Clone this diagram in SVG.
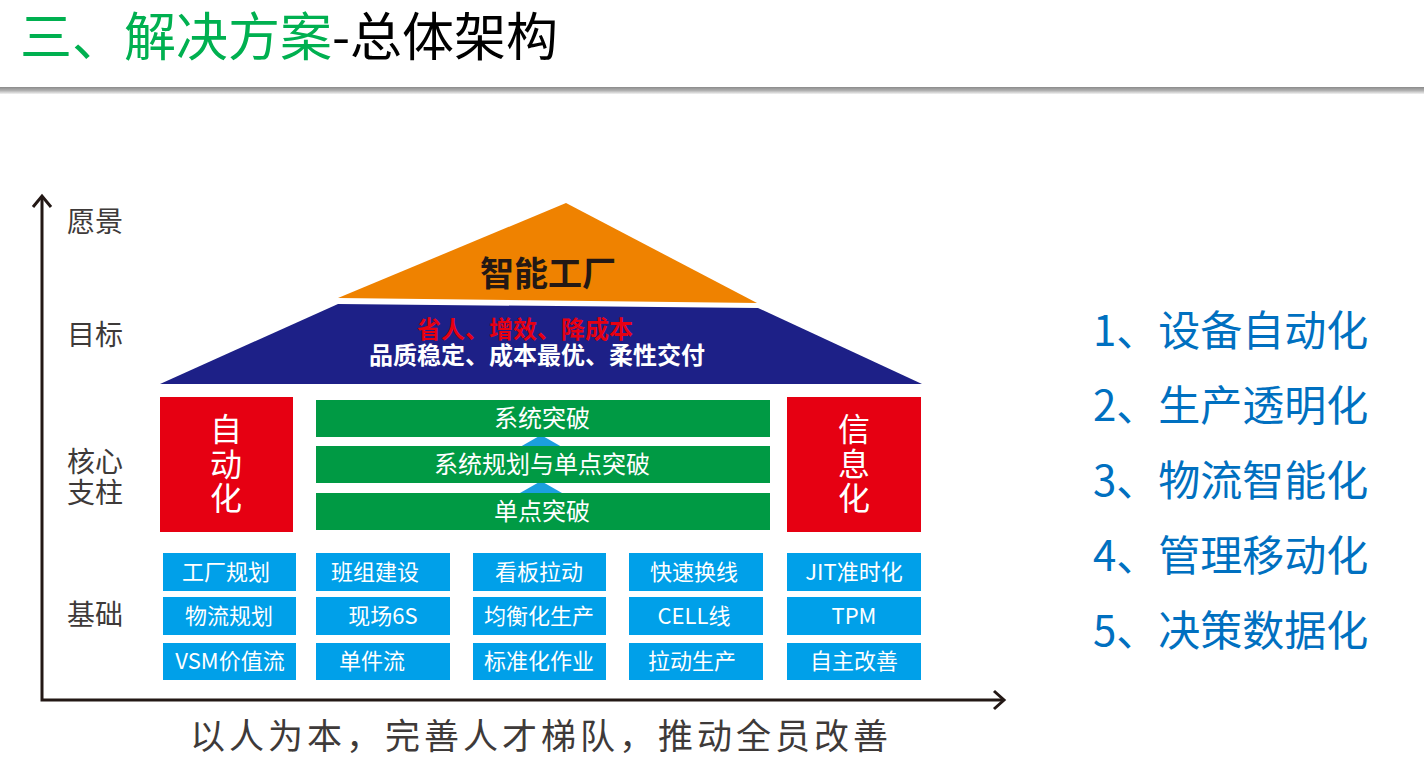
<svg xmlns="http://www.w3.org/2000/svg" width="1424" height="773" viewBox="0 0 1424 773">
<style>
text{font-family:"Noto Sans CJK SC","Noto Sans",sans-serif;}
.ax{font-size:28px;fill:#3e3a39;}
.pil{font-size:32px;fill:#fff;text-anchor:middle;}
.bar{font-size:24px;fill:#fff;text-anchor:middle;}
.base{font-size:22px;fill:#fff;text-anchor:middle;}
.lst{font-size:42px;fill:#0070c0;}
.gb{fill:#009a44;}
.bb{fill:#00a0e9;}
.rp{fill:#e60012;}
.axis{stroke:#231815;stroke-width:3;fill:none;}
</style>
<defs>
<linearGradient id="hl" x1="0" y1="0" x2="0" y2="1">
<stop offset="0" stop-color="#8a8a8a"/>
<stop offset="0.5" stop-color="#b0b0b0"/>
<stop offset="1" stop-color="#f2f2f2"/>
</linearGradient>
</defs>
<rect width="1424" height="773" fill="#fff"/>
<g id="title">
<text x="20" y="56" font-size="52"><tspan fill="#00b050">三、解决方案</tspan><tspan fill="#000">-总体架构</tspan></text>
<rect x="0" y="87" width="1424" height="7" fill="url(#hl)"/>
</g>
<g id="connectors">
<polyline class="axis" points="42,196 42,700 1004,700"/>
<polyline class="axis" points="33,207 42,196 51,207"/>
<polyline class="axis" points="994,691 1004,700 994,709"/>
<polygon points="541,435 520,447 562,447" fill="#1b9fdf"/>
<polygon points="541,481 520,493 562,493" fill="#1b9fdf"/>
</g>
<g id="axis-labels">
<text class="ax" x="67" y="232">愿景</text>
<text class="ax" x="67" y="345">目标</text>
<text class="ax" x="67" y="472">核心<tspan x="67" dy="31">支柱</tspan></text>
<text class="ax" x="67" y="625">基础</text>
</g>
<g id="vision">
<polygon points="566,203 338,298 757,303" fill="#ef8200"/>
<text x="548" y="286" font-size="34" font-weight="bold" fill="#231815" text-anchor="middle">智能工厂</text>
</g>
<g id="goal">
<polygon points="338,304 758,308 922,384 160,384" fill="#1d2087"/>
<text x="525" y="338" font-size="24" font-weight="bold" fill="#e60012" text-anchor="middle">省人、增效、降成本</text>
<text x="537" y="364" font-size="24" font-weight="bold" fill="#fff" text-anchor="middle">品质稳定、成本最优、柔性交付</text>
</g>
<g id="pillar-auto">
<rect class="rp" x="160" y="397" width="133" height="135"/>
<text class="pil" x="226" y="441">自<tspan x="226" dy="35">动</tspan><tspan x="226" dy="34">化</tspan></text>
</g>
<g id="pillar-info">
<rect class="rp" x="787" y="397" width="134" height="135"/>
<text class="pil" x="854" y="441">信<tspan x="854" dy="35">息</tspan><tspan x="854" dy="34">化</tspan></text>
</g>
<g id="bar-system">
<rect class="gb" x="316" y="400" width="454" height="37"/>
<text class="bar" x="542" y="427">系统突破</text>
</g>
<g id="bar-plan">
<rect class="gb" x="316" y="446" width="454" height="37"/>
<text class="bar" x="542" y="473">系统规划与单点突破</text>
</g>
<g id="bar-single">
<rect class="gb" x="316" y="493" width="454" height="37"/>
<text class="bar" x="542" y="520">单点突破</text>
</g>
<g id="base-1-1"><rect class="bb" x="163" y="553" width="133" height="38"/><text class="base" x="226" y="580">工厂规划</text></g>
<g id="base-1-2"><rect class="bb" x="316" y="553" width="134" height="38"/><text class="base" x="375" y="580">班组建设</text></g>
<g id="base-1-3"><rect class="bb" x="473" y="553" width="133" height="38"/><text class="base" x="539" y="580">看板拉动</text></g>
<g id="base-1-4"><rect class="bb" x="629" y="553" width="134" height="38"/><text class="base" x="694" y="580">快速换线</text></g>
<g id="base-1-5"><rect class="bb" x="787" y="553" width="134" height="38"/><text class="base" x="854" y="580">JIT准时化</text></g>
<g id="base-2-1"><rect class="bb" x="163" y="597" width="133" height="38"/><text class="base" x="229" y="624">物流规划</text></g>
<g id="base-2-2"><rect class="bb" x="316" y="597" width="134" height="38"/><text class="base" x="383" y="624">现场6S</text></g>
<g id="base-2-3"><rect class="bb" x="473" y="597" width="133" height="38"/><text class="base" x="539" y="624">均衡化生产</text></g>
<g id="base-2-4"><rect class="bb" x="629" y="597" width="134" height="38"/><text class="base" x="694" y="624">CELL线</text></g>
<g id="base-2-5"><rect class="bb" x="787" y="597" width="134" height="38"/><text class="base" x="854" y="624">TPM</text></g>
<g id="base-3-1"><rect class="bb" x="163" y="643" width="133" height="37"/><text class="base" x="230" y="669">VSM价值流</text></g>
<g id="base-3-2"><rect class="bb" x="316" y="643" width="134" height="37"/><text class="base" x="372" y="669">单件流</text></g>
<g id="base-3-3"><rect class="bb" x="473" y="643" width="133" height="37"/><text class="base" x="539" y="669">标准化作业</text></g>
<g id="base-3-4"><rect class="bb" x="629" y="643" width="134" height="37"/><text class="base" x="692" y="669">拉动生产</text></g>
<g id="base-3-5"><rect class="bb" x="787" y="643" width="134" height="37"/><text class="base" x="854" y="669">自主改善</text></g>
<g id="slogan">
<text x="539" y="749" font-size="35" fill="#3e3a39" text-anchor="middle" textLength="698" lengthAdjust="spacing">以人为本，完善人才梯队，推动全员改善</text>
</g>
<g id="list">
<text class="lst" x="1093" y="346">1、设备自动化</text>
<text class="lst" x="1093" y="421">2、生产透明化</text>
<text class="lst" x="1093" y="496">3、物流智能化</text>
<text class="lst" x="1093" y="571">4、管理移动化</text>
<text class="lst" x="1093" y="646">5、决策数据化</text>
</g>
</svg>
